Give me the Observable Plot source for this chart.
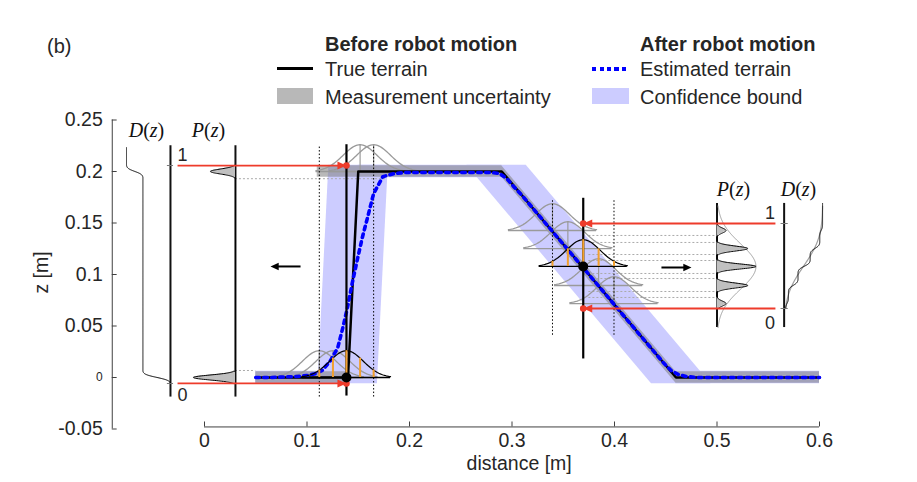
<!DOCTYPE html>
<html>
<head>
<meta charset="utf-8">
<script src="https://cdn.jsdelivr.net/npm/d3@7"></script>
<script src="https://cdn.jsdelivr.net/npm/@observablehq/plot@0.6"></script>
<style>
  body { margin: 0; background: #fff; }
  #fig { position: relative; width: 917px; height: 482px; font-family: Helvetica, Arial, "Liberation Sans", sans-serif; color: #262626; }
  #legend { position: relative; width: 917px; height: 110px; }
  #legend .t { position: absolute; white-space: nowrap; font-size: 20px; line-height: 1; }
  #legend .b { font-weight: bold; }
  #legend .sw { position: absolute; }
  #chart svg { display: block; }
</style>
</head>
<body>
<div id="fig">
  <div id="legend">
    <div class="t" style="left:47px;top:36px">(b)</div>
    <div class="t b" style="left:325px;top:33.5px">Before robot motion</div>
    <div class="sw" style="left:277px;top:67px;width:36px;height:3px;background:#000"></div>
    <div class="t" style="left:325px;top:59px">True terrain</div>
    <div class="sw" style="left:277px;top:88px;width:36px;height:16px;background:#b8b8b8"></div>
    <div class="t" style="left:325px;top:86.5px">Measurement uncertainty</div>
    <div class="t b" style="left:640px;top:33.5px">After robot motion</div>
    <div class="sw" style="left:592px;top:66.5px;width:36px;height:4px;background:repeating-linear-gradient(to right,#0000ff 0 4px,transparent 4px 7.5px)"></div>
    <div class="t" style="left:640px;top:59px">Estimated terrain</div>
    <div class="sw" style="left:592px;top:88px;width:37px;height:16px;background:#ccccff"></div>
    <div class="t" style="left:640px;top:86.5px">Confidence bound</div>
  </div>
  <div id="chart"></div>
</div>
<script>
// ---- Terrain profiles: distance [m] and height z [m] ----
const trueX = [0.05, 0.14, 0.15, 0.29, 0.46, 0.60];
const trueZ = [0.00, 0.00, 0.20, 0.20, 0.00, 0.00];

const estX = [0.050, 0.064, 0.090, 0.101, 0.109, 0.115, 0.123, 0.130, 0.135, 0.1395, 0.144, 0.149, 0.154, 0.159, 0.165, 0.174, 0.185, 0.196, 0.280, 0.288, 0.295, 0.302, 0.310, 0.448, 0.455, 0.462, 0.470, 0.480, 0.600];
const estZ = [0.000, 0.000, 0.001, 0.002, 0.004, 0.007, 0.0165, 0.029, 0.0485, 0.068, 0.091, 0.114, 0.136, 0.155, 0.1786, 0.195, 0.198, 0.199, 0.199, 0.198, 0.193, 0.185, 0.1765, 0.014, 0.007, 0.003, 0.001, 0.000, 0.000];

// Measured ground strips (lower floor and upper plateau + slope)
const measSeg = ["lower", "lower", "upper", "upper", "upper", "upper"];
const measX = [0.05, 0.14, 0.11, 0.29, 0.46, 0.60];
const measZ = [0.00, 0.00, 0.20, 0.20, 0.00, 0.00];
const measHalf = 0.0055;

// Confidence bound: vertical half-width on flat ground, horizontal across faces
const confHalfZ = 0.006;
const confHalfX = 0.029;
const faceName = ["step", "step", "slope", "slope"];
const faceZ = [-0.006, 0.206, 0.206, -0.006];
const faceX = [0.1397, 0.1503, 0.2849, 0.4651];

// Position-uncertainty kernels at the two measurement points
const stepKX = [0.1120, 0.1253, 0.1385, 0.1518, 0.1650];
const stepKZ = [0.0, 0.0, 0.0, 0.2, 0.2];
const slopeKX = [0.3395, 0.3545, 0.3695, 0.3845, 0.3995];
const slopeKZ = [0.1427, 0.1252, 0.1078, 0.0893, 0.0718];
const kernelMain = 2;
const kernelSigma = 0.0165, kernelPeak = 0.026, kernelSpan = 0.043;

// Measurement columns
const measureX = [0.1385, 0.3695];
const measureTop = [0.226, 0.174];
const measureBottom = [-0.018, 0.018];
const guideX = [0.112, 0.165, 0.3395, 0.3995];
const guideTop = [0.225, 0.225, 0.172, 0.172];
const guideBottom = [-0.019, -0.019, 0.041, 0.041];

// Height distributions P(z): spike centres and lengths
const leftPZ = [0.20, 0.00];
const leftPH = [0.0244, 0.041];
const rightPZ = [0.1427, 0.1252, 0.1078, 0.0893, 0.0718];
const rightPH = [0.0088, 0.030, 0.038, 0.030, 0.0088];
const spikeSigma = 0.0024, spikeHalf = 0.0062;
const envCenter = 0.1078, envSigma = 0.022, envPeak = 0.038;

// Panel axes for P(z) and D(z)
const leftPAxisX = 0.0302, leftDAxisX = -0.0332, leftDZeroX = -0.0761;
const rightPAxisX = 0.5, rightDAxisX = 0.5655, rightDZeroX = 0.603;
const leftPanelZ = [-0.019, 0.225];
const rightPanelZ = [0.0485, 0.169];

// Range of each distribution (red arrows) and inner spike edges (grey guides)
const leftRangeZ = [0.2058, -0.0058];
const rightRangeZ = [0.1495, 0.067];
const leftEdgeZ = [0.193, 0.0068];
const leftEdgeX2 = [0.177, 0.05];
const rightEdgeZ = [0.1379, 0.1311, 0.1194, 0.1136, 0.1010, 0.0961, 0.0835, 0.0777];

// Direction of robot motion
const moveFrom = [0.0937, 0.4458];
const moveTo = [0.0644, 0.4751];
const moveZ = [0.1078, 0.1068];

// Axis ticks
const xTicks = [0, 0.1, 0.2, 0.3, 0.4, 0.5, 0.6];
const xTickLabels = ["0", "0.1", "0.2", "0.3", "0.4", "0.5", "0.6"];
const yTicks = [-0.05, 0, 0.05, 0.1, 0.15, 0.2, 0.25];
const yTickLabels = ["-0.05", "0", "0.05", "0.1", "0.15", "0.2", "0.25"];

const red = "#EE3B2B", orange = "#F2A02E", ink = "#262626", axisInk = "#404040";
const xAxisZ = -0.048, yAxisX = -0.09;

// ---- derived tables ----
const terrain = trueX.map((x, i) => ({x, z: trueZ[i]}));
const estimate = estX.map((x, i) => ({x, z: estZ[i]}));
const meas = measX.map((x, i) => ({x, z: measZ[i], seg: measSeg[i]}));
const faces = faceX.map((x, i) => ({x, z: faceZ[i], face: faceName[i]}));

const gauss = (d, s) => Math.exp(-(d * d) / (2 * s * s));

function kernels(kx, kz, tag) {
  return kx.map((c, i) => ({c, z: kz[i], main: i === kernelMain, key: tag + i}));
}
const allKernels = [...kernels(stepKX, stepKZ, "s"), ...kernels(slopeKX, slopeKZ, "p")];
const kernelCurve = [];
for (const k of allKernels) {
  const n = 60;
  for (let j = 0; j <= n; j++) {
    const x = k.c - kernelSpan + (2 * kernelSpan * j) / n;
    kernelCurve.push({x, h: k.z + kernelPeak * gauss(x - k.c, kernelSigma), key: k.key, main: k.main});
  }
}
// samples under the main kernel at each kernel position
const samples = [];
for (const [kx, kz] of [[stepKX, stepKZ], [slopeKX, slopeKZ]]) {
  const c = kx[kernelMain], z0 = kz[kernelMain];
  kx.forEach((x) => samples.push({x, z0, z1: z0 + kernelPeak * gauss(x - c, kernelSigma)}));
}

function spikeProfile(zc, hs, zHi, zLo, step) {
  const pts = [];
  const n = Math.round((zHi - zLo) / step);
  for (let j = 0; j <= n; j++) {
    const z = zHi - j * step;
    let p = 0;
    zc.forEach((c, i) => { if (Math.abs(z - c) <= spikeHalf) p += hs[i] * gauss(z - c, spikeSigma); });
    pts.push({z, p});
  }
  return pts;
}
function cumulative(profile) {
  let s = 0;
  const out = profile.map((d) => { s += d.p; return {z: d.z, F: s}; });
  return out.map((d) => ({z: d.z, F: d.F / s}));
}

const leftP = spikeProfile(leftPZ, leftPH, leftRangeZ[0], leftRangeZ[1], 0.0002);
const rightP = spikeProfile(rightPZ, rightPH, rightRangeZ[0], rightRangeZ[1], 0.0002);
const rightEnv = [];
for (let j = 0; j <= 200; j++) {
  const z = rightPanelZ[0] + (rightPanelZ[1] - rightPanelZ[0] - 0.0025) * j / 200;
  rightEnv.push({z, p: envPeak * gauss(z - envCenter, envSigma)});
}
const leftD = cumulative(spikeProfile(leftPZ, leftPH, 0.223, leftRangeZ[1], 0.0002));
const rightD = cumulative(spikeProfile(rightPZ, rightPH, rightPanelZ[1], rightRangeZ[1], 0.0002));
const rightDenv = cumulative(rightEnv.filter((d) => d.z >= rightRangeZ[1]).reverse());

const redArrows = [
  ...leftRangeZ.map((z) => ({x1: -0.0263, x2: measureX[0], z, dir: 1})),
  ...rightRangeZ.map((z) => ({x1: 0.557, x2: measureX[1], z, dir: -1}))
];
const moves = moveFrom.map((x, i) => ({x1: x, x2: moveTo[i], z: moveZ[i], dir: moveTo[i] > x ? 1 : -1}));

// arrow heads with the tip at the anchor point
const headRight = {draw(ctx, size) { const l = Math.sqrt(size); ctx.moveTo(0, 0); ctx.lineTo(-l, -l * 0.45); ctx.lineTo(-l, l * 0.45); ctx.closePath(); }};
const headLeft = {draw(ctx, size) { const l = Math.sqrt(size); ctx.moveTo(0, 0); ctx.lineTo(l, -l * 0.45); ctx.lineTo(l, l * 0.45); ctx.closePath(); }};

const mathLabels = [
  {x: -0.0566, z: 0.240, t: "D(z)"}, {x: 0.0039, z: 0.240, t: "P(z)"},
  {x: 0.5161, z: 0.1825, t: "P(z)"}, {x: 0.5795, z: 0.1825, t: "D(z)"}
];

const chart = Plot.plot({
  width: 917,
  height: 372,
  marginLeft: 101.5,
  marginRight: 98,
  marginTop: 9.5,
  marginBottom: 53.5,
  x: {domain: [-0.1, 0.6], axis: null},
  y: {domain: [-0.05, 0.25], axis: null},
  style: {fontFamily: "Helvetica, Arial, 'Liberation Sans', sans-serif", fontSize: "20px", color: ink, background: "white", overflow: "visible"},
  marks: [
    // confidence bound
    Plot.areaY(terrain, {x: "x", y1: (d) => d.z - confHalfZ, y2: (d) => d.z + confHalfZ, fill: "#ccccff"}),
    Plot.areaX(faces, {y: "z", x1: (d) => d.x - confHalfX, x2: (d) => d.x + confHalfX, z: "face", fill: "#ccccff"}),
    // measurement uncertainty
    Plot.areaY(meas, {x: "x", y1: (d) => d.z - measHalf, y2: (d) => d.z + measHalf, z: "seg", fill: "#808080", fillOpacity: 0.55}),
    // grey guides from spike edges
    Plot.ruleY(leftEdgeZ, {y: (d) => d, x1: leftPAxisX, x2: (d, i) => leftEdgeX2[i], stroke: "#aaa", strokeWidth: 1, strokeDasharray: "2 2"}),
    Plot.ruleY(rightEdgeZ, {y: (d) => d, x1: 0.375, x2: rightPAxisX, stroke: "#aaa", strokeWidth: 1, strokeDasharray: "2 2"}),
    // kernel bases, curves, centre marks
    Plot.ruleY(allKernels.filter((k) => !k.main), {y: "z", x1: (d) => d.c - kernelSpan, x2: (d) => d.c + kernelSpan, stroke: "#9a9a9a", strokeWidth: 1.3}),
    Plot.line(kernelCurve.filter((d) => !d.main), {x: "x", y: "h", z: "key", stroke: "#9a9a9a", strokeWidth: 1.3}),
    Plot.ruleX(allKernels.filter((k) => !k.main), {x: "c", y1: "z", y2: (d) => d.z + kernelPeak, stroke: "#9a9a9a", strokeWidth: 1.2}),
    // guide columns
    Plot.ruleX(guideX, {x: (d) => d, y1: (d, i) => guideBottom[i], y2: (d, i) => guideTop[i], stroke: "#000", strokeWidth: 1, strokeDasharray: "1.5 2"}),
    // true terrain
    Plot.line(terrain, {x: "x", y: "z", stroke: "#000", strokeWidth: 2.5}),
    // estimated terrain
    Plot.line(estimate, {x: "x", y: "z", stroke: "#0000ff", strokeWidth: 3.6, strokeDasharray: "3.6 4.4", curve: "linear"}),
    // main kernels
    Plot.ruleY(allKernels.filter((k) => k.main), {y: "z", x1: (d) => d.c - kernelSpan, x2: (d) => d.c + kernelSpan, stroke: "#000", strokeWidth: 1.3}),
    Plot.line(kernelCurve.filter((d) => d.main), {x: "x", y: "h", z: "key", stroke: "#000", strokeWidth: 1.2}),
    // measurement columns
    Plot.ruleX(measureX, {x: (d) => d, y1: (d, i) => measureBottom[i], y2: (d, i) => measureTop[i], stroke: "#000", strokeWidth: 2.2}),
    Plot.ruleX(samples, {x: "x", y1: "z0", y2: "z1", stroke: orange, strokeWidth: 2}),
    // P(z) and D(z) panels
    Plot.ruleX([leftDAxisX, leftPAxisX], {y1: leftPanelZ[0], y2: leftPanelZ[1], stroke: "#111", strokeWidth: 2}),
    Plot.ruleX([rightPAxisX, rightDAxisX], {y1: rightPanelZ[0], y2: rightPanelZ[1], stroke: "#111", strokeWidth: 2}),
    Plot.areaX(leftP, {y: "z", x1: leftPAxisX, x2: (d) => leftPAxisX - d.p, fill: "#c0c0c0"}),
    Plot.line(leftP, {y: "z", x: (d) => leftPAxisX - d.p, stroke: "#000", strokeWidth: 1}),
    Plot.line(rightEnv, {y: "z", x: (d) => rightPAxisX + d.p, stroke: "#a0a0a0", strokeWidth: 1}),
    Plot.areaX(rightP, {y: "z", x1: rightPAxisX, x2: (d) => rightPAxisX + d.p, fill: "#c0c0c0"}),
    Plot.line(rightP, {y: "z", x: (d) => rightPAxisX + d.p, stroke: "#000", strokeWidth: 1}),
    Plot.line(leftD, {y: "z", x: (d) => leftDZeroX + (leftDAxisX - leftDZeroX) * d.F, stroke: "#000", strokeWidth: 1}),
    Plot.line(rightDenv, {y: "z", x: (d) => rightDZeroX + (rightDAxisX + 0.0015 - rightDZeroX) * d.F, stroke: "#a0a0a0", strokeWidth: 1.2}),
    Plot.line(rightD, {y: "z", x: (d) => rightDZeroX + (rightDAxisX + 0.0015 - rightDZeroX) * d.F, stroke: "#000", strokeWidth: 1}),
    Plot.ruleY(leftRangeZ, {y: (d) => d, x1: leftDAxisX - 0.003, x2: leftDAxisX + 0.003, stroke: "#777", strokeWidth: 1}),
    Plot.ruleY(rightRangeZ, {y: (d) => d, x1: rightDAxisX - 0.003, x2: rightDAxisX + 0.004, stroke: "#777", strokeWidth: 1}),
    Plot.text(["1", "0"], {x: -0.0263, y: [0.216, -0.0175], text: (d) => d, textAnchor: "start", fontSize: 18, fill: ink}),
    Plot.text(["1", "0"], {x: 0.5566, y: [0.159, 0.053], text: (d) => d, textAnchor: "end", fontSize: 18, fill: ink}),
    Plot.text(mathLabels, {x: "x", y: "z", text: "t", fontFamily: "'Liberation Serif', 'DejaVu Serif', serif", fontStyle: "italic", fontSize: 20, fill: "#111"}),
    // red range arrows
    Plot.link(redArrows, {x1: "x1", x2: (d) => d.x2 - d.dir * 0.006, y1: "z", y2: "z", stroke: red, strokeWidth: 1.8}),
    Plot.dot(redArrows.filter((d) => d.dir > 0), {x: "x2", y: "z", symbol: headRight, r: 5.1, fill: red, stroke: "none"}),
    Plot.dot(redArrows.filter((d) => d.dir < 0), {x: "x2", y: "z", symbol: headLeft, r: 5.1, fill: red, stroke: "none"}),
    Plot.dot(redArrows, {x: "x2", y: "z", r: 3.3, fill: red, stroke: "none"}),
    // measurement points
    Plot.dot(measureX, {x: (d) => d, y: (d, i) => [stepKZ[kernelMain], slopeKZ[kernelMain]][i], r: 5, fill: "#000", stroke: "none"}),
    // motion arrows
    Plot.link(moves, {x1: "x1", x2: (d) => d.x2 - d.dir * 0.005, y1: "z", y2: "z", stroke: "#000", strokeWidth: 2}),
    Plot.dot(moves.filter((d) => d.dir > 0), {x: "x2", y: "z", symbol: headRight, r: 4.6, fill: "#000", stroke: "none"}),
    Plot.dot(moves.filter((d) => d.dir < 0), {x: "x2", y: "z", symbol: headLeft, r: 4.6, fill: "#000", stroke: "none"}),
    // axes
    Plot.ruleX([yAxisX], {y1: -0.05, y2: 0.25, stroke: axisInk, strokeWidth: 1}),
    Plot.ruleY(yTicks, {y: (d) => d, x1: yAxisX, x2: yAxisX + 0.0048, stroke: axisInk, strokeWidth: 1}),
    Plot.text(yTicks, {x: yAxisX, y: (d) => d, text: (d, i) => yTickLabels[i], textAnchor: "end", dx: -9.5, fontSize: (d) => (d === 0 ? 12 : 19.5), fill: ink}),
    Plot.ruleY([xAxisZ], {x1: 0, x2: 0.6, stroke: axisInk, strokeWidth: 1}),
    Plot.ruleX(xTicks, {x: (d) => d, y1: xAxisZ, y2: xAxisZ + 0.0048, stroke: axisInk, strokeWidth: 1}),
    Plot.text(xTicks, {x: (d) => d, y: xAxisZ, text: (d, i) => xTickLabels[i], dy: 14, fontSize: 19.5, fill: ink}),
    Plot.text(["distance [m]"], {x: 0.307, y: -0.0838, text: (d) => d, fontSize: 19.5, fill: ink}),
    Plot.text(["z [m]"], {x: -0.159, y: 0.102, text: (d) => d, rotate: -90, fontSize: 19.5, fill: ink})
  ]
});

// upright parentheses inside the italic P(z)/D(z) labels
d3.select(chart).selectAll("text").each(function () {
  const s = this.textContent;
  if (!/^[PD]\(z\)$/.test(s)) return;
  const t = d3.select(this);
  t.text(null);
  for (const ch of s) {
    const span = t.append("tspan").text(ch);
    if (!/[A-Za-z]/.test(ch)) span.attr("font-style", "normal");
  }
});

document.getElementById("chart").append(chart);
</script>
</body>
</html>
